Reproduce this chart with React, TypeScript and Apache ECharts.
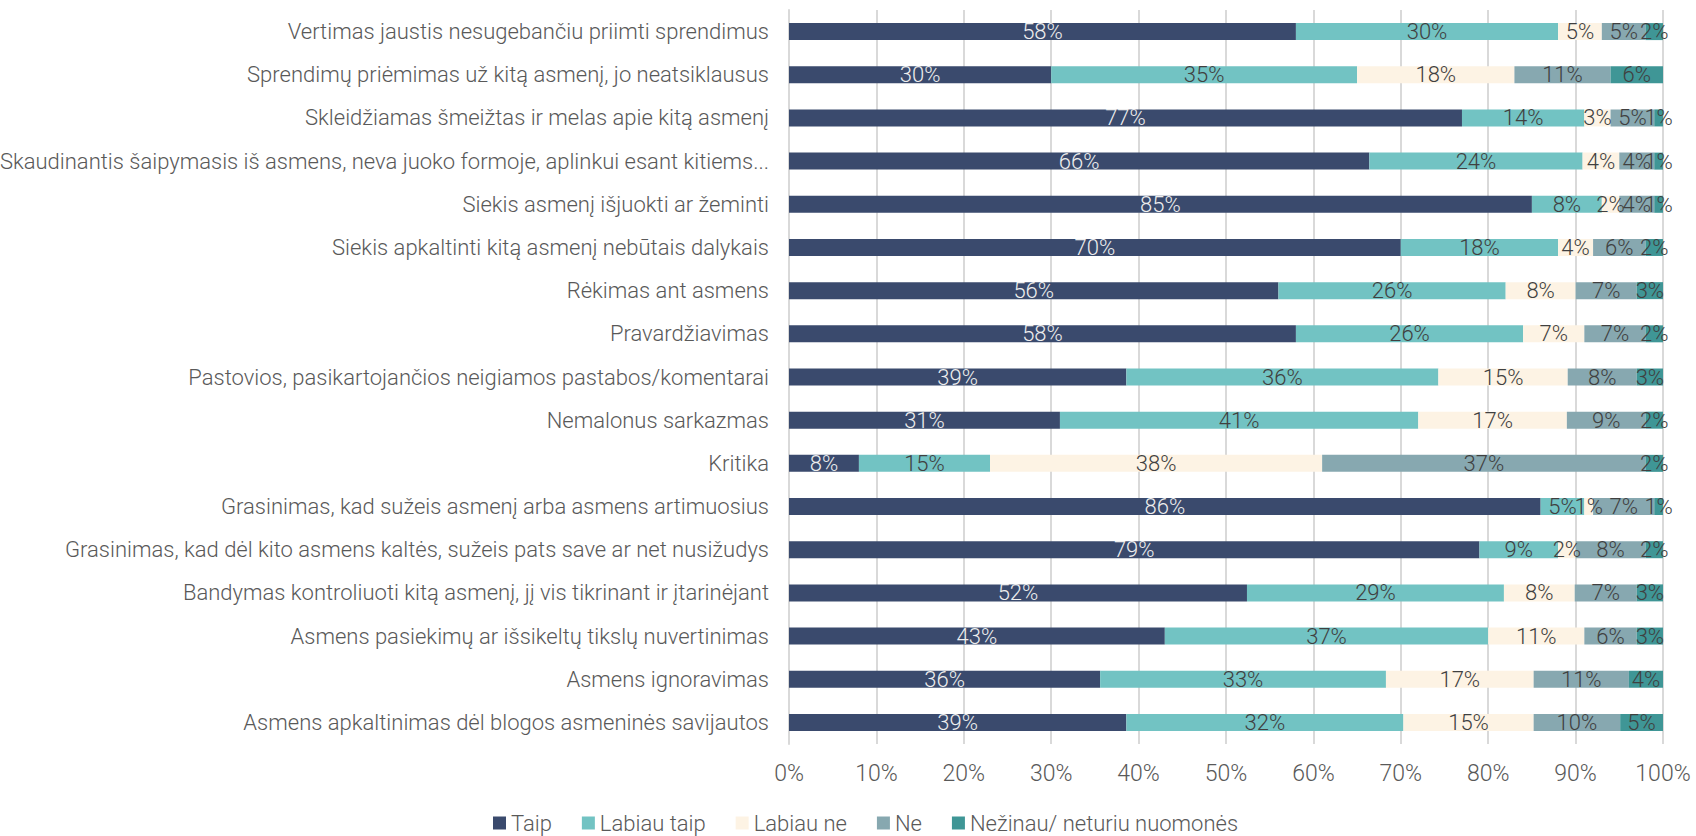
import React, { useEffect, useRef } from "react";
import * as echarts from "echarts";

const categories = [
  "Vertimas jaustis nesugebančiu priimti sprendimus",
  "Sprendimų priėmimas už kitą asmenį, jo neatsiklausus",
  "Skleidžiamas šmeižtas ir melas apie kitą asmenį",
  "Skaudinantis šaipymasis iš asmens, neva juoko formoje, aplinkui esant kitiems...",
  "Siekis asmenį išjuokti ar žeminti",
  "Siekis apkaltinti kitą asmenį nebūtais dalykais",
  "Rėkimas ant asmens",
  "Pravardžiavimas",
  "Pastovios, pasikartojančios neigiamos pastabos/komentarai",
  "Nemalonus sarkazmas",
  "Kritika",
  "Grasinimas, kad sužeis asmenį arba asmens artimuosius",
  "Grasinimas, kad dėl kito asmens kaltės, sužeis pats save ar net nusižudys",
  "Bandymas kontroliuoti kitą asmenį, jį vis tikrinant ir įtarinėjant",
  "Asmens pasiekimų ar išsikeltų tikslų nuvertinimas",
  "Asmens ignoravimas",
  "Asmens apkaltinimas dėl blogos asmeninės savijautos",
];

const seriesNames = ["Taip", "Labiau taip", "Labiau ne", "Ne", "Nežinau/ neturiu nuomonės"];

const taip = [58, 30, 77, 66.4, 85, 70, 56, 58, 38.6, 31, 8, 86, 79, 52.4, 43, 35.6, 38.6];
const labiauTaip = [30, 35, 14, 24.4, 8, 18, 26, 26, 35.7, 41, 15, 5, 9, 29.4, 37, 32.7, 31.7];
const labiauNe = [5, 18, 3, 4.2, 2, 4, 8, 7, 14.8, 17, 38, 1, 2, 8.1, 11, 16.9, 14.9];
const ne = [5, 11, 5, 4, 4, 6, 7, 7, 7.9, 9, 37, 7, 8, 7.1, 6, 10.9, 9.9];
const nezinau = [2, 6, 1, 1, 1, 2, 3, 2, 3, 2, 2, 1, 2, 3, 3, 3.9, 4.9];

const xMin = 0;
const xMax = 100;

const colors = ["#3a4a6d", "#72c3c3", "#fdf3e4", "#87a8b0", "#3f9696"];
const labelColors = ["#eeeeee", "#404040", "#404040", "#404040", "#404040"];

const FONT = "Roboto, sans-serif";

function pct(p: any) {
  return Math.round(Number(p.value)) + "%";
}

export default function App() {
  const ref = useRef<HTMLDivElement>(null);

  useEffect(() => {
    const el = ref.current;
    if (!el) return;
    const chart = echarts.init(el, null, { renderer: "svg" });
    const allData = [taip, labiauTaip, labiauNe, ne, nezinau];
    const series = seriesNames.map((name, i) => ({
      name: name,
      type: "bar",
      stack: "total",
      barWidth: 17,
      data: allData[i],
      itemStyle: { color: colors[i] },
      label: {
        show: true,
        position: "inside",
        formatter: pct,
        fontFamily: FONT,
        fontWeight: 300,
        fontSize: 22,
        color: labelColors[i],
      },
    }));
    chart.setOption({
      animation: false,
      color: colors,
      grid: {
        left: 789,
        right: 33,
        top: 10,
        bottom: 92,
        containLabel: false,
        outerBoundsMode: "none",
      },
      legend: {
        data: seriesNames,
        left: 488,
        top: 807,
        itemWidth: 13,
        itemHeight: 13,
        itemGap: 30,
        icon: "rect",
        textStyle: { fontFamily: FONT, fontWeight: 300, fontSize: 22, color: "#595959" },
      },
      xAxis: {
        type: "value",
        min: xMin,
        max: xMax,
        interval: 10,
        axisLine: { show: false },
        axisTick: { show: false },
        splitLine: { show: true, lineStyle: { color: "#d9d9d9", width: 2 } },
        axisLabel: {
          formatter: "{value}%",
          fontFamily: FONT,
          fontWeight: 300,
          fontSize: 23,
          color: "#595959",
          margin: 18,
        },
      },
      yAxis: {
        type: "category",
        data: categories,
        inverse: true,
        axisTick: { show: false },
        axisLine: { show: true, lineStyle: { color: "#d9d9d9", width: 2 } },
        axisLabel: {
          fontFamily: FONT,
          fontWeight: 300,
          fontSize: 22,
          color: "#595959",
          margin: 20,
        },
      },
      series: series,
    });
    return () => {
      chart.dispose();
    };
  }, []);

  return (
    <div
      ref={ref}
      style={{ position: "absolute", left: 0, top: 0, width: 1696, height: 836 }}
    />
  );
}
